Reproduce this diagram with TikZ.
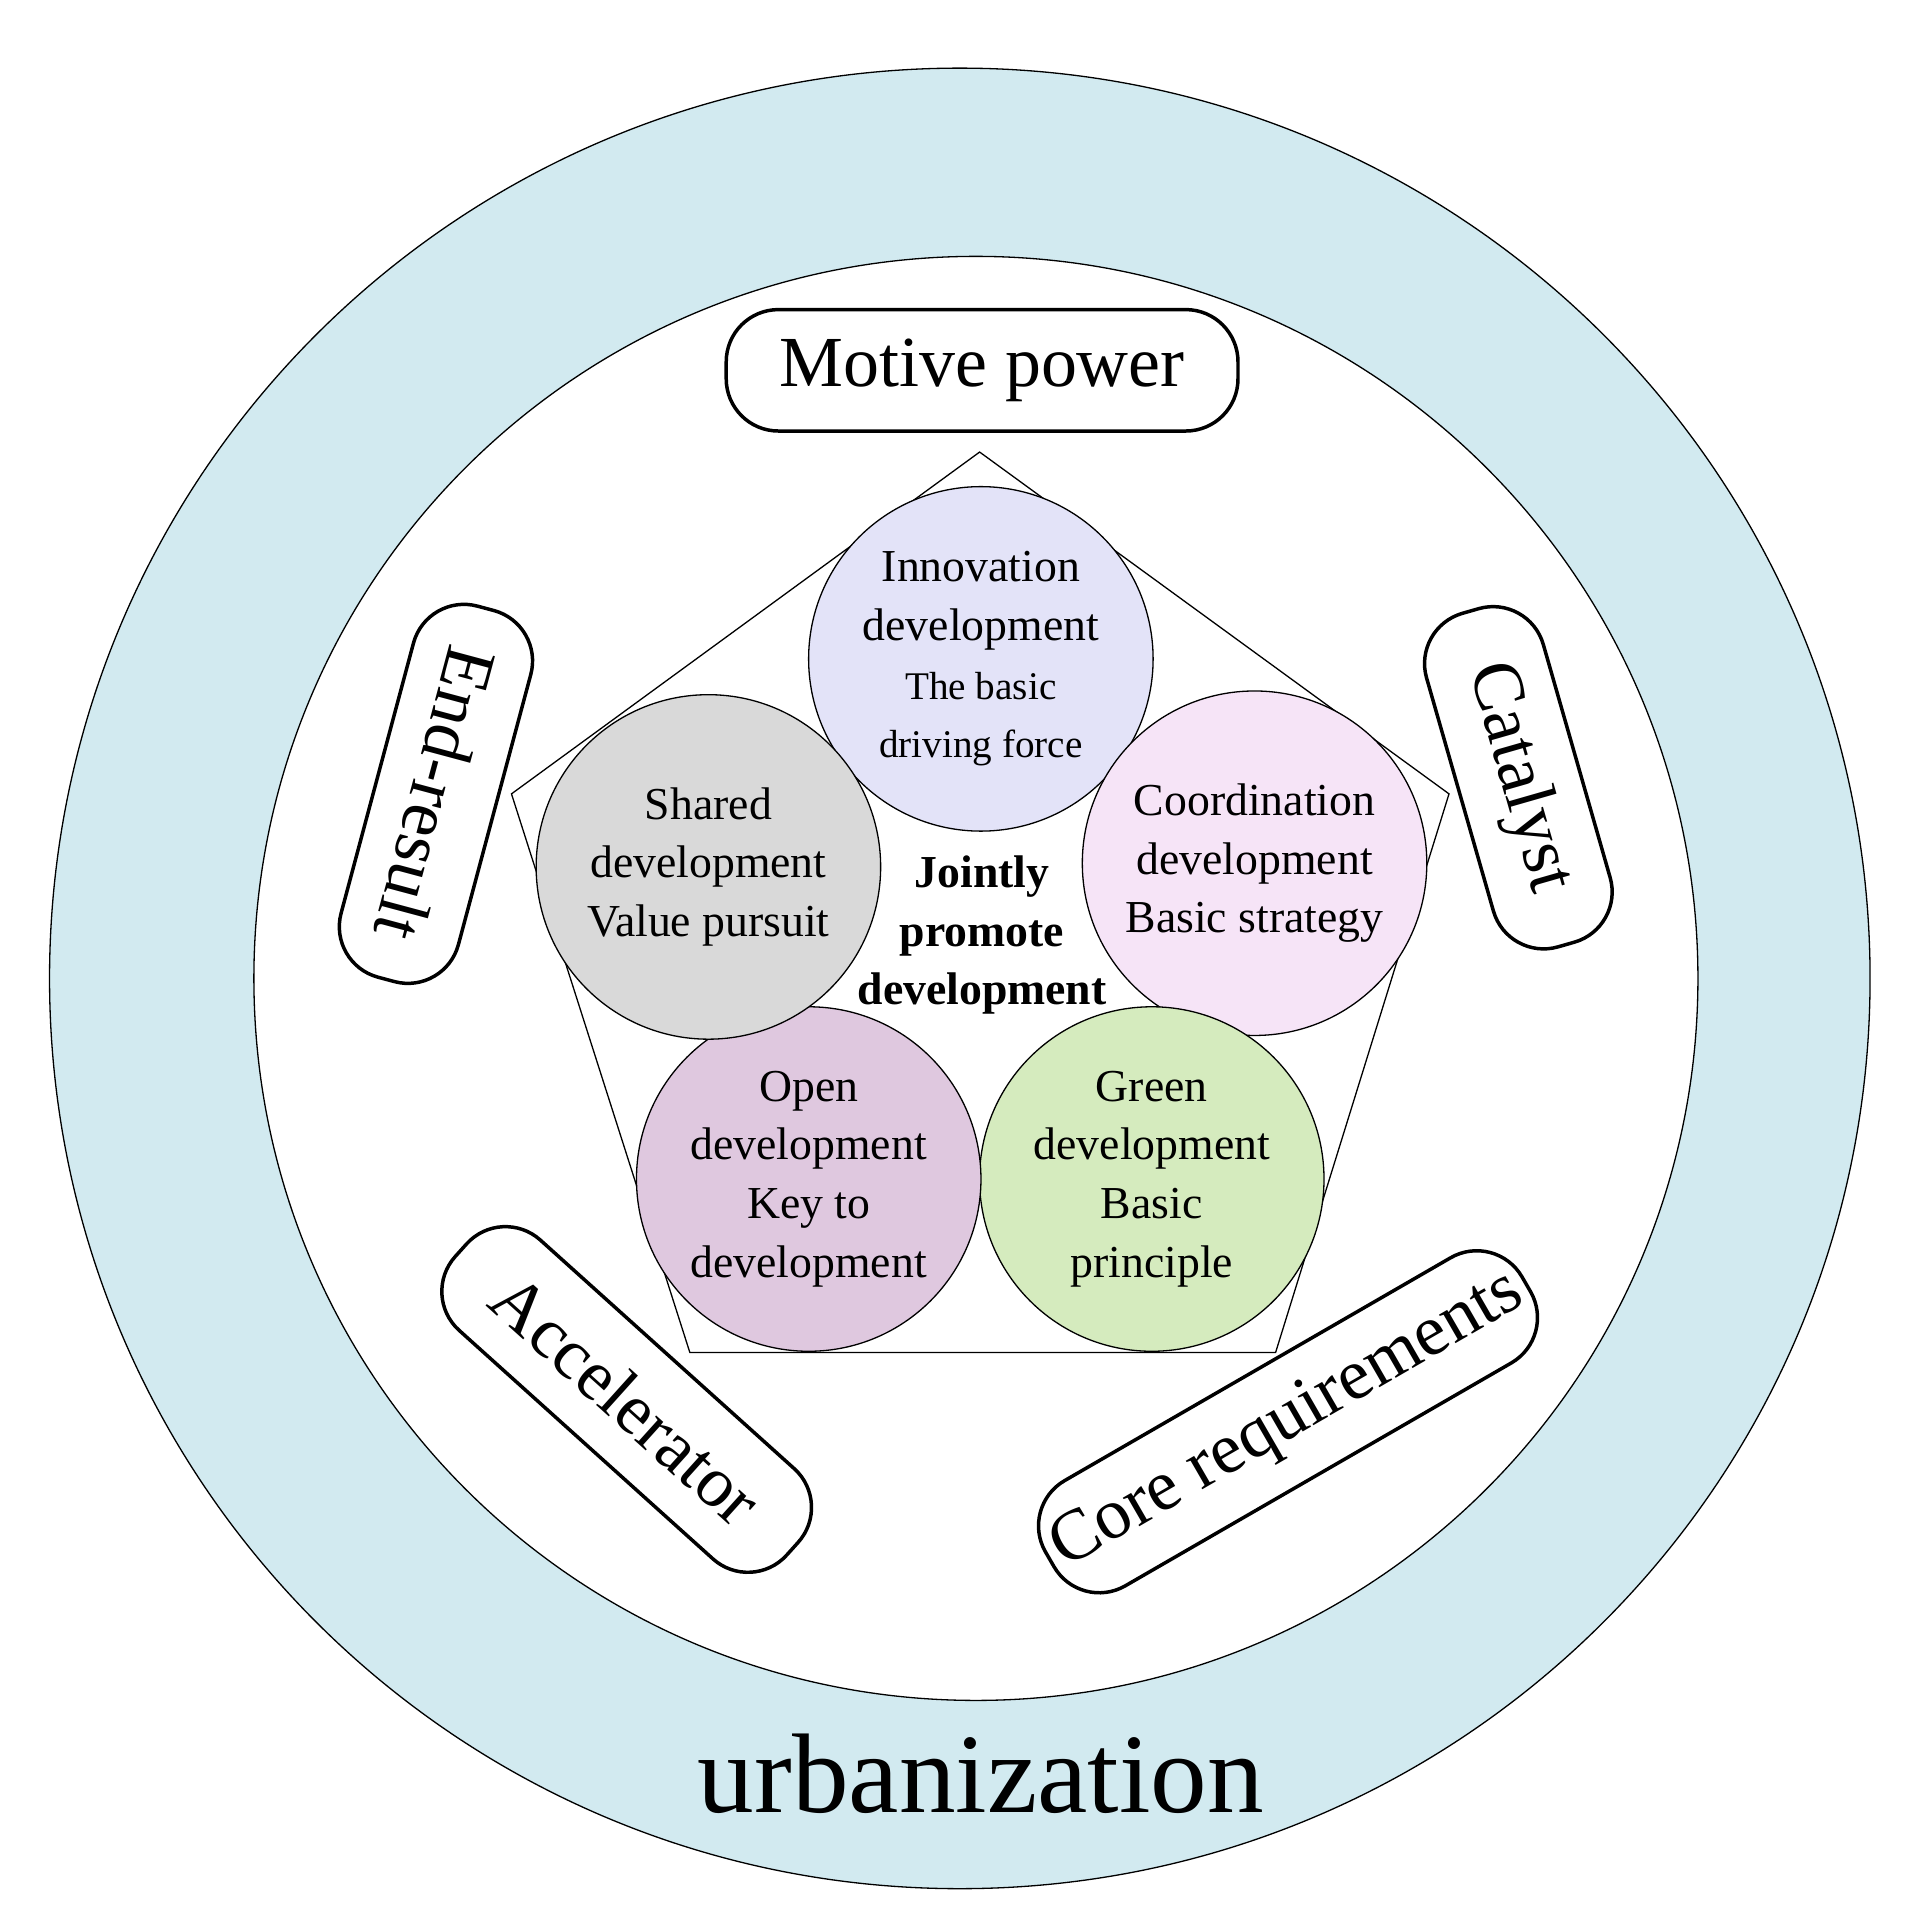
\documentclass[tikz,border=0pt]{standalone}
\usepackage{fontspec}
\setmainfont{Liberation Serif}
\usetikzlibrary{positioning}
\definecolor{ringblue}{HTML}{D2EAF0}
\definecolor{innocol}{HTML}{E3E3F8}
\definecolor{coordcol}{HTML}{F6E4F7}
\definecolor{greencol}{HTML}{D5EBBE}
\definecolor{opencol}{HTML}{DFC8DF}
\definecolor{sharecol}{HTML}{D9D9D9}
\tikzset{
	idea/.style={draw,circle,minimum size=2.78cm,inner sep=0pt,align=center,
		font=\fontsize{10.5}{13.5}\selectfont,line width=0.3pt},
	role/.style={draw,rounded corners=12pt,minimum height=0.98cm,inner sep=2pt,
		font=\fontsize{16.5}{20}\selectfont,line width=0.8pt}
}
\begin{document}
\begin{tikzpicture}[x=0.01cm,y=-0.01cm]
			\useasboundingbox (0,0) rectangle (1550,1560);
			
			\fill [ringblue,draw=black,line width=0.3pt] (775,790) circle (735);
			\fill [white,draw=black,line width=0.3pt] (788,790) circle (583);
			
			\coordinate (p1) at (791,365);
			\coordinate (p2) at (1170,641);
			\coordinate (p3) at (1030,1092);
			\coordinate (p4) at (557,1092);
			\coordinate (p5) at (413,641);
			\draw [line width=0.3pt] (p1) -- (p2) -- (p3) -- (p4) -- (p5) -- cycle;
			
			\node [idea,fill=innocol] (innovation) at (792,532) {Innovation\\development\\{\fontsize{9}{11}\selectfont The basic}\\{\fontsize{9}{11}\selectfont driving force}};
			\node [idea,fill=coordcol] (coordination) at (1013,697) {Coordination\\development\\Basic strategy};
			\node [idea,fill=greencol] (green) at (930,952) {Green\\development\\Basic\\principle};
			\node [idea,fill=opencol] (open) at (653,952) {Open\\development\\Key to\\development};
			\node [idea,fill=sharecol] (shared) at (572,700) {Shared\\development\\Value pursuit};
			
			\node [align=center,font=\bfseries\fontsize{10.5}{13.5}\selectfont] (jointly) at (793,755) {Jointly\\promote\\development};
			
			\node [role,minimum width=4.13cm] (motive) at (793,299) {Motive power};
			\node [role,minimum width=3.1cm,rotate=-105] (endresult) at (352,641) {End-result};
			\node [role,minimum width=2.8cm,rotate=-74] (catalyst) at (1226,628) {Catalyst};
			\node [role,minimum width=3.6cm,rotate=-42] (accelerator) at (506,1130) {Accelerator};
			\node [role,minimum width=4.2cm,rotate=30] (core) at (1040,1148) {Core requirements};
			
			\node [font=\fontsize{26}{30}\selectfont] (urban) at (792,1432) {urbanization};
\end{tikzpicture}
\end{document}
